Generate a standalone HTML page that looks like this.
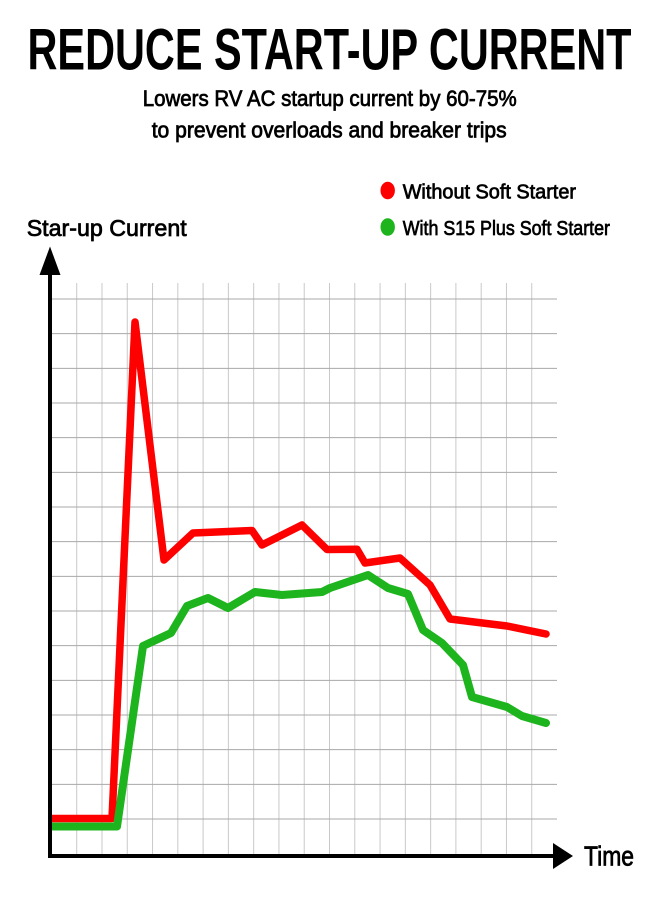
<!DOCTYPE html>
<html>
<head>
<meta charset="utf-8">
<style>
  html,body{margin:0;padding:0;background:#fff;}
  svg{display:block;}
  text{font-family:"Liberation Sans", sans-serif; fill:#000;}
</style>
</head>
<body>
<svg width="660" height="900" viewBox="0 0 660 900" xmlns="http://www.w3.org/2000/svg">
  <rect width="660" height="900" fill="#fff"/>

  <!-- Title -->
  <text x="27.5" y="69.5" font-size="58" font-weight="bold" textLength="604" lengthAdjust="spacingAndGlyphs">REDUCE START-UP CURRENT</text>
  <!-- Subtitle -->
  <text x="142.7" y="106" font-size="22" stroke="#000" stroke-width="0.75" textLength="374" lengthAdjust="spacingAndGlyphs">Lowers RV AC startup current by 60-75%</text>
  <text x="151.7" y="137.7" font-size="22" stroke="#000" stroke-width="0.75" textLength="355" lengthAdjust="spacingAndGlyphs">to prevent overloads and breaker trips</text>

  <!-- Legend -->
  <ellipse cx="387.7" cy="190.5" rx="7.2" ry="8.8" fill="#ff0000"/>
  <text x="402.7" y="198.3" font-size="20" stroke="#000" stroke-width="0.7" textLength="173.3" lengthAdjust="spacingAndGlyphs">Without Soft Starter</text>
  <ellipse cx="387.7" cy="227" rx="7.2" ry="8.8" fill="#1db41d"/>
  <text x="402.7" y="235" font-size="20" stroke="#000" stroke-width="0.7" textLength="207.3" lengthAdjust="spacingAndGlyphs">With S15 Plus Soft Starter</text>

  <!-- Y axis label -->
  <text x="26.7" y="236" font-size="23.5" stroke="#000" stroke-width="0.75" textLength="160" lengthAdjust="spacingAndGlyphs">Star-up Current</text>

  <!-- Grid vertical -->
  <g stroke="#c9c9c9" stroke-width="1">
    <line x1="76.7" y1="283" x2="76.7" y2="854"/>
    <line x1="101.98" y1="283" x2="101.98" y2="854"/>
    <line x1="127.26" y1="283" x2="127.26" y2="854"/>
    <line x1="152.54" y1="283" x2="152.54" y2="854"/>
    <line x1="177.82" y1="283" x2="177.82" y2="854"/>
    <line x1="203.1" y1="283" x2="203.1" y2="854"/>
    <line x1="228.38" y1="283" x2="228.38" y2="854"/>
    <line x1="253.66" y1="283" x2="253.66" y2="854"/>
    <line x1="278.94" y1="283" x2="278.94" y2="854"/>
    <line x1="304.22" y1="283" x2="304.22" y2="854"/>
    <line x1="329.5" y1="283" x2="329.5" y2="854"/>
    <line x1="354.78" y1="283" x2="354.78" y2="854"/>
    <line x1="380.06" y1="283" x2="380.06" y2="854"/>
    <line x1="405.34" y1="283" x2="405.34" y2="854"/>
    <line x1="430.62" y1="283" x2="430.62" y2="854"/>
    <line x1="455.9" y1="283" x2="455.9" y2="854"/>
    <line x1="481.18" y1="283" x2="481.18" y2="854"/>
    <line x1="506.46" y1="283" x2="506.46" y2="854"/>
    <line x1="531.74" y1="283" x2="531.74" y2="854"/>
  </g>
  <!-- Grid horizontal -->
  <g stroke="#a8a8a8" stroke-width="1">
    <line x1="52" y1="299" x2="557" y2="299"/>
    <line x1="52" y1="333.67" x2="557" y2="333.67"/>
    <line x1="52" y1="368.33" x2="557" y2="368.33"/>
    <line x1="52" y1="403" x2="557" y2="403"/>
    <line x1="52" y1="437.67" x2="557" y2="437.67"/>
    <line x1="52" y1="472.33" x2="557" y2="472.33"/>
    <line x1="52" y1="507" x2="557" y2="507"/>
    <line x1="52" y1="541.67" x2="557" y2="541.67"/>
    <line x1="52" y1="576.33" x2="557" y2="576.33"/>
    <line x1="52" y1="611" x2="557" y2="611"/>
    <line x1="52" y1="645.67" x2="557" y2="645.67"/>
    <line x1="52" y1="680.33" x2="557" y2="680.33"/>
    <line x1="52" y1="715" x2="557" y2="715"/>
    <line x1="52" y1="749.67" x2="557" y2="749.67"/>
    <line x1="52" y1="784.33" x2="557" y2="784.33"/>
    <line x1="52" y1="819" x2="557" y2="819"/>
  </g>

  <!-- Red series -->
  <polyline fill="none" stroke="#ff0000" stroke-width="7.5" stroke-linejoin="round" stroke-linecap="round"
    points="52,818.5 112,818.5 135,322 164,560 193,533 252,530.5 262,545 302,525 327,549.5 357,549.3 365,563 400,558 430,585 450,619 507,626 546,634"/>
  <!-- Green series -->
  <polyline fill="none" stroke="#1db41d" stroke-width="8" stroke-linejoin="round" stroke-linecap="round"
    points="52,826.5 117,826.5 143,646 171,633 187,606 208,598 228,608 255,592 282,595 322,592 330,588 368,575 388,588 408,594 423,630 442,643 463,665 472,697 507,707 522,716 546,723"/>

  <!-- Axes -->
  <rect x="48" y="272" width="4" height="586" fill="#000"/>
  <polygon points="39.5,275 60.5,275 50,246.5" fill="#000"/>
  <rect x="48" y="854" width="506" height="4" fill="#000"/>
  <polygon points="553,843 553,869 573,856" fill="#000"/>

  <!-- X axis label -->
  <text x="584" y="865.7" font-size="28" stroke="#000" stroke-width="0.8" textLength="50" lengthAdjust="spacingAndGlyphs">Time</text>
</svg>
</body>
</html>
